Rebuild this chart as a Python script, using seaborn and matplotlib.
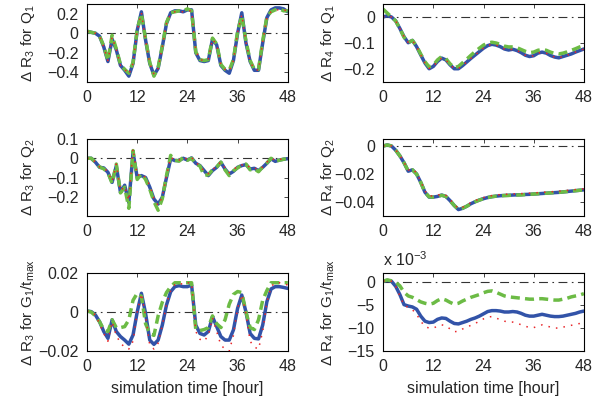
#!/usr/bin/env python

import matplotlib
matplotlib.use('Agg')
import matplotlib.pyplot as plt
import matplotlib.ticker as ticker
import seaborn as sns

OUTPUT_FILE = 'out.png'

HOURS = list(range(49))

# dR3 for Q1
r3_q1_blue = [0.02, 0.01, 0.0, -0.03, -0.14, -0.29, -0.06, -0.17, -0.33, -0.38,
              -0.44, -0.31, 0.03, 0.22, -0.07, -0.31, -0.43, -0.36, -0.14, 0.10,
              0.21, 0.23, 0.23, 0.22, 0.24, 0.24, -0.20, -0.28, -0.29, -0.28,
              -0.06, -0.12, -0.33, -0.38, -0.41, -0.28, 0.0, 0.21, -0.10, -0.29,
              -0.38, -0.38, -0.10, 0.16, 0.24, 0.26, 0.26, 0.25, 0.22]
r3_q1_green = [0.02, 0.01, 0.0, -0.03, -0.13, -0.28, -0.02, -0.16, -0.32, -0.37,
               -0.41, -0.30, 0.04, 0.20, -0.06, -0.30, -0.44, -0.35, -0.13, 0.11,
               0.21, 0.22, 0.23, 0.23, 0.25, 0.23, -0.19, -0.27, -0.28, -0.27,
               -0.05, -0.11, -0.32, -0.37, -0.38, -0.27, 0.02, 0.18, -0.08, -0.28,
               -0.37, -0.37, -0.08, 0.17, 0.22, 0.24, 0.25, 0.23, 0.23]
r3_q1_red = [0.02, 0.01, 0.0, -0.03, -0.14, -0.28, -0.04, -0.17, -0.33, -0.37,
             -0.42, -0.31, 0.03, 0.21, -0.07, -0.31, -0.42, -0.36, -0.14, 0.10,
             0.20, 0.22, 0.22, 0.22, 0.23, 0.23, -0.18, -0.27, -0.28, -0.27,
             -0.06, -0.12, -0.32, -0.37, -0.39, -0.28, 0.01, 0.19, -0.09, -0.29,
             -0.37, -0.38, -0.09, 0.16, 0.22, 0.24, 0.24, 0.24, 0.23]

# dR4 for Q1
r4_q1_blue = [0.0, 0.005, 0.0, -0.015, -0.044, -0.076, -0.099, -0.090, -0.114, -0.146,
              -0.177, -0.199, -0.190, -0.171, -0.158, -0.165, -0.184, -0.199, -0.199, -0.187,
              -0.173, -0.159, -0.146, -0.133, -0.120, -0.110, -0.105, -0.108, -0.114, -0.123,
              -0.127, -0.124, -0.129, -0.137, -0.147, -0.152, -0.149, -0.139, -0.135, -0.139,
              -0.148, -0.154, -0.157, -0.152, -0.147, -0.142, -0.135, -0.129, -0.123]
r4_q1_green = [0.03, 0.015, 0.0, -0.015, -0.045, -0.078, -0.098, -0.090, -0.112, -0.143,
               -0.172, -0.192, -0.185, -0.165, -0.152, -0.160, -0.180, -0.195, -0.190, -0.176,
               -0.162, -0.147, -0.133, -0.120, -0.108, -0.100, -0.097, -0.100, -0.105, -0.112,
               -0.115, -0.115, -0.118, -0.125, -0.132, -0.137, -0.135, -0.128, -0.125, -0.128,
               -0.135, -0.140, -0.142, -0.139, -0.134, -0.128, -0.122, -0.115, -0.110]
r4_q1_red = [0.0, 0.005, 0.0, -0.015, -0.044, -0.076, -0.098, -0.090, -0.114, -0.146,
             -0.177, -0.198, -0.190, -0.171, -0.158, -0.165, -0.184, -0.198, -0.198, -0.187,
             -0.173, -0.159, -0.146, -0.133, -0.120, -0.110, -0.105, -0.108, -0.114, -0.123,
             -0.127, -0.124, -0.129, -0.137, -0.147, -0.152, -0.149, -0.139, -0.135, -0.139,
             -0.148, -0.154, -0.157, -0.152, -0.147, -0.142, -0.135, -0.129, -0.123]

# dR3 for Q2
r3_q2_blue = [0.0, 0.0, -0.020, -0.047, -0.050, -0.073, -0.125, -0.040, -0.177, -0.140,
              -0.230, 0.030, -0.100, -0.090, -0.100, -0.150, -0.212, -0.238, -0.203, -0.100,
              -0.003, -0.012, -0.012, 0.0, -0.009, 0.002, -0.026, -0.038, -0.064, -0.090,
              -0.064, -0.047, -0.021, -0.056, -0.082, -0.068, -0.047, -0.038, -0.033, -0.056,
              -0.052, -0.064, -0.047, -0.026, -0.003, -0.016, -0.009, -0.005, -0.002]
r3_q2_green = [0.0, 0.0, -0.020, -0.045, -0.055, -0.075, -0.130, -0.030, -0.180, -0.150,
               -0.260, 0.040, -0.110, -0.080, -0.110, -0.160, -0.225, -0.270, -0.210, -0.090,
               0.015, -0.010, -0.015, 0.005, -0.010, 0.0, -0.030, -0.040, -0.090, -0.085,
               -0.060, -0.045, -0.020, -0.060, -0.090, -0.065, -0.050, -0.035, -0.030, -0.060,
               -0.055, -0.070, -0.045, -0.025, 0.0, -0.015, -0.010, -0.005, 0.0]
r3_q2_red = [0.0, 0.0, -0.020, -0.045, -0.050, -0.070, -0.120, -0.030, -0.170, -0.145,
             -0.220, 0.050, -0.090, -0.080, -0.100, -0.140, -0.210, -0.245, -0.200, -0.090,
             0.005, -0.010, -0.010, 0.005, -0.005, 0.005, -0.025, -0.035, -0.070, -0.080,
             -0.060, -0.040, -0.020, -0.050, -0.075, -0.060, -0.040, -0.035, -0.030, -0.050,
             -0.050, -0.060, -0.045, -0.020, 0.0, -0.010, -0.005, -0.005, 0.0]

# dR4 for Q2
r4_q2_blue = [0.0, 0.0008, 0.0, -0.0030, -0.0070, -0.0120, -0.0180, -0.0170, -0.0200, -0.0260,
              -0.0330, -0.0365, -0.0365, -0.0360, -0.0350, -0.0360, -0.0390, -0.0425, -0.0454, -0.0445,
              -0.0430, -0.0412, -0.0398, -0.0386, -0.0376, -0.0368, -0.0362, -0.0358, -0.0355, -0.0353,
              -0.0352, -0.0350, -0.0349, -0.0348, -0.0346, -0.0345, -0.0343, -0.0341, -0.0339, -0.0337,
              -0.0335, -0.0333, -0.0331, -0.0328, -0.0325, -0.0322, -0.0319, -0.0316, -0.0313]
r4_q2_green = [0.0, 0.0008, 0.0, -0.0030, -0.0070, -0.0120, -0.0178, -0.0170, -0.0200, -0.0260,
               -0.0330, -0.0363, -0.0365, -0.0360, -0.0352, -0.0360, -0.0390, -0.0425, -0.0452, -0.0444,
               -0.0430, -0.0412, -0.0398, -0.0386, -0.0376, -0.0368, -0.0362, -0.0358, -0.0355, -0.0354,
               -0.0353, -0.0351, -0.0350, -0.0349, -0.0347, -0.0345, -0.0343, -0.0341, -0.0339, -0.0337,
               -0.0335, -0.0333, -0.0331, -0.0328, -0.0325, -0.0322, -0.0319, -0.0316, -0.0313]
r4_q2_red = [0.0, 0.0008, 0.0, -0.0028, -0.0066, -0.0115, -0.0172, -0.0162, -0.0193, -0.0252,
             -0.0322, -0.0356, -0.0357, -0.0352, -0.0342, -0.0352, -0.0382, -0.0417, -0.0446, -0.0437,
             -0.0422, -0.0404, -0.0390, -0.0378, -0.0368, -0.0360, -0.0354, -0.0350, -0.0347, -0.0345,
             -0.0344, -0.0342, -0.0341, -0.0340, -0.0338, -0.0337, -0.0335, -0.0333, -0.0331, -0.0329,
             -0.0327, -0.0325, -0.0323, -0.0320, -0.0317, -0.0314, -0.0311, -0.0308, -0.0305]

# dR3 for G1/tmax
r3_g1_blue = [0.0005, 0.0002, -0.0015, -0.0050, -0.0100, -0.0135, -0.0040, -0.0100, -0.0126, -0.0144,
              -0.0165, -0.0118, 0.0, 0.0096, -0.0007, -0.0144, -0.0166, -0.0144, -0.0067, 0.0036,
              0.0104, 0.0130, 0.0135, 0.0130, 0.0130, 0.0138, -0.0067, -0.0110, -0.0118, -0.0100,
              -0.0024, -0.0075, -0.0126, -0.0144, -0.0144, -0.0092, 0.0019, 0.0087, 0.0, -0.0110,
              -0.0135, -0.0138, -0.0067, 0.0053, 0.0118, 0.0130, 0.0130, 0.0126, 0.0121]
r3_g1_green = [0.0005, 0.0, -0.0020, -0.0050, -0.0090, -0.0100, -0.0040, -0.0080, -0.0080, -0.0075,
               -0.0040, 0.0060, 0.0096, 0.0080, -0.0060, -0.0110, -0.0120, -0.0020, 0.0050, 0.0100,
               0.0130, 0.0150, 0.0150, 0.0150, 0.0150, 0.0150, -0.0090, -0.0095, -0.0090, -0.0080,
               -0.0020, -0.0060, -0.0080, -0.0040, 0.0040, 0.0090, 0.0105, 0.0100, 0.0, -0.0080,
               -0.0090, -0.0040, 0.0060, 0.0110, 0.0150, 0.0150, 0.0150, 0.0150, 0.0150]
r3_g1_red = [0.0005, 0.0002, -0.0015, -0.0060, -0.0110, -0.0150, -0.0050, -0.0120, -0.0160, -0.0180,
             -0.0190, -0.0150, 0.0, 0.0095, -0.0020, -0.0170, -0.0190, -0.0160, -0.0070, 0.0040,
             0.0110, 0.0140, 0.0150, 0.0140, 0.0150, 0.0150, -0.0100, -0.0140, -0.0150, -0.0120,
             -0.0030, -0.0100, -0.0170, -0.0190, -0.0200, -0.0120, 0.0020, 0.0090, -0.0010, -0.0150,
             -0.0180, -0.0190, -0.0100, 0.0050, 0.0130, 0.0150, 0.0150, 0.0140, 0.0140]

# dR4 for G1/tmax, in units of 1e-3
r4_g1_blue = [0.2, 0.4, 0.2, -0.9, -2.7, -4.9, -5.2, -5.4, -5.9, -7.4,
              -8.5, -8.8, -8.7, -8.1, -7.8, -7.9, -8.5, -9.0, -9.1, -8.8,
              -8.5, -8.1, -7.8, -7.4, -6.9, -6.4, -6.2, -6.2, -6.3, -6.5,
              -6.5, -6.4, -6.5, -6.8, -7.2, -7.4, -7.4, -7.2, -7.0, -7.2,
              -7.4, -7.5, -7.5, -7.4, -7.2, -7.0, -6.8, -6.5, -6.3]
r4_g1_green = [0.2, 0.5, 0.3, 0.0, -0.8, -2.2, -3.0, -3.3, -3.8, -4.3,
               -4.6, -4.8, -4.6, -4.0, -3.6, -3.9, -4.4, -4.8, -4.6, -4.1,
               -3.7, -3.3, -3.0, -2.7, -2.3, -2.0, -1.9, -2.2, -2.6, -3.0,
               -3.2, -3.3, -3.4, -3.5, -3.6, -3.7, -3.7, -3.6, -3.6, -3.7,
               -3.8, -3.9, -3.9, -3.7, -3.5, -3.2, -3.0, -2.8, -2.5]
r4_g1_red = [0.2, 0.4, 0.2, -0.9, -3.0, -5.0, -5.5, -6.0, -7.0, -8.5,
             -9.7, -10.0, -10.0, -9.6, -9.3, -9.5, -10.2, -10.8, -10.7, -10.2,
             -9.8, -9.4, -9.0, -8.5, -8.0, -7.6, -7.5, -7.8, -8.2, -8.5,
             -8.7, -8.7, -8.9, -9.3, -9.6, -9.9, -9.9, -9.6, -9.3, -9.5,
             -9.8, -10.0, -10.0, -9.8, -9.6, -9.4, -9.2, -9.0, -8.6]

X_TICKS = [0, 12, 24, 36, 48]

BLUE = '#3253a8'
GREEN = '#6cbb45'
RED = '#e8262a'

TICK_SIZE = 11.5
LABEL_SIZE = 11


def draw_panel(ax, blue, green, red, ylim, yticks, ylabel, label_x):
    ax.plot([0, 48], [0, 0], color='0.2', lw=0.8, ls=(0, (8, 4, 1.5, 4)))
    sns.lineplot(x=HOURS, y=blue, ax=ax, color=BLUE, lw=2.5)
    sns.lineplot(x=HOURS, y=green, ax=ax, color=GREEN, lw=2.5,
                 linestyle=(0, (2.6, 1.5)))
    sns.lineplot(x=HOURS, y=red, ax=ax, color=RED, lw=1.1,
                 linestyle=(0, (1, 4)))
    ax.set(xlim=(0, 48), ylim=ylim, xlabel='')
    ax.set_ylabel(ylabel, fontsize=LABEL_SIZE)
    ax.set_xticks(X_TICKS)
    ax.set_yticks(yticks)
    ax.yaxis.set_major_formatter(ticker.FuncFormatter(
        lambda v, p: ('%g' % v).replace('-', '\u2212')))
    ax.tick_params(direction='in', top=True, right=True, length=3,
                   width=0.6, labelsize=TICK_SIZE, pad=6)
    for s in ax.spines.values():
        s.set_linewidth(0.8)
        s.set_color('black')
    ax.yaxis.set_label_coords(label_x, 0.5)


def main():
    sns.set_style('white')
    plt.rcParams['font.family'] = ['Liberation Sans', 'DejaVu Sans']
    plt.rcParams['mathtext.default'] = 'regular'
    plt.rcParams['axes.unicode_minus'] = True

    fig = plt.figure(figsize=(5.94, 4.01), dpi=100)
    lx, rx, w = 0.1465, 0.645, 0.338
    rows = [(0.7955, 0.1945), (0.4613, 0.192), (0.1247, 0.1945)]

    ax1 = fig.add_axes([lx, rows[0][0], w, rows[0][1]])
    ax2 = fig.add_axes([rx, rows[0][0], w, rows[0][1]])
    ax3 = fig.add_axes([lx, rows[1][0], w, rows[1][1]])
    ax4 = fig.add_axes([rx, rows[1][0], w, rows[1][1]])
    ax5 = fig.add_axes([lx, rows[2][0], w, rows[2][1]])
    ax6 = fig.add_axes([rx, rows[2][0], w, rows[2][1]])

    draw_panel(ax1, r3_q1_blue, r3_q1_green, r3_q1_red, (-0.5, 0.3),
               [-0.4, -0.2, 0, 0.2], r'$\Delta$ R$_3$ for Q$_1$', -0.25)
    draw_panel(ax2, r4_q1_blue, r4_q1_green, r4_q1_red, (-0.25, 0.05),
               [-0.2, -0.1, 0], r'$\Delta$ R$_4$ for Q$_1$', -0.23)
    draw_panel(ax3, r3_q2_blue, r3_q2_green, r3_q2_red, (-0.3, 0.1),
               [-0.2, -0.1, 0, 0.1], r'$\Delta$ R$_3$ for Q$_2$', -0.25)
    draw_panel(ax4, r4_q2_blue, r4_q2_green, r4_q2_red, (-0.05, 0.005),
               [-0.04, -0.02, 0], r'$\Delta$ R$_4$ for Q$_2$', -0.23)
    draw_panel(ax5, r3_g1_blue, r3_g1_green, r3_g1_red, (-0.02, 0.02),
               [-0.02, 0, 0.02], r'$\Delta$ R$_3$ for G$_1$/t$_{max}$', -0.25)
    draw_panel(ax6, r4_g1_blue, r4_g1_green, r4_g1_red, (-15, 2),
               [-15, -10, -5, 0], r'$\Delta$ R$_4$ for G$_1$/t$_{max}$', -0.23)
    ax6.text(0.0, 1.05, r'x 10$^{-3}$', transform=ax6.transAxes,
             fontsize=TICK_SIZE, ha='left', va='bottom')

    for ax in (ax5, ax6):
        ax.set_xlabel('simulation time [hour]', fontsize=TICK_SIZE, labelpad=5)

    fig.savefig(OUTPUT_FILE, dpi=100)
    plt.close(fig)


if __name__ == '__main__':
    main()
